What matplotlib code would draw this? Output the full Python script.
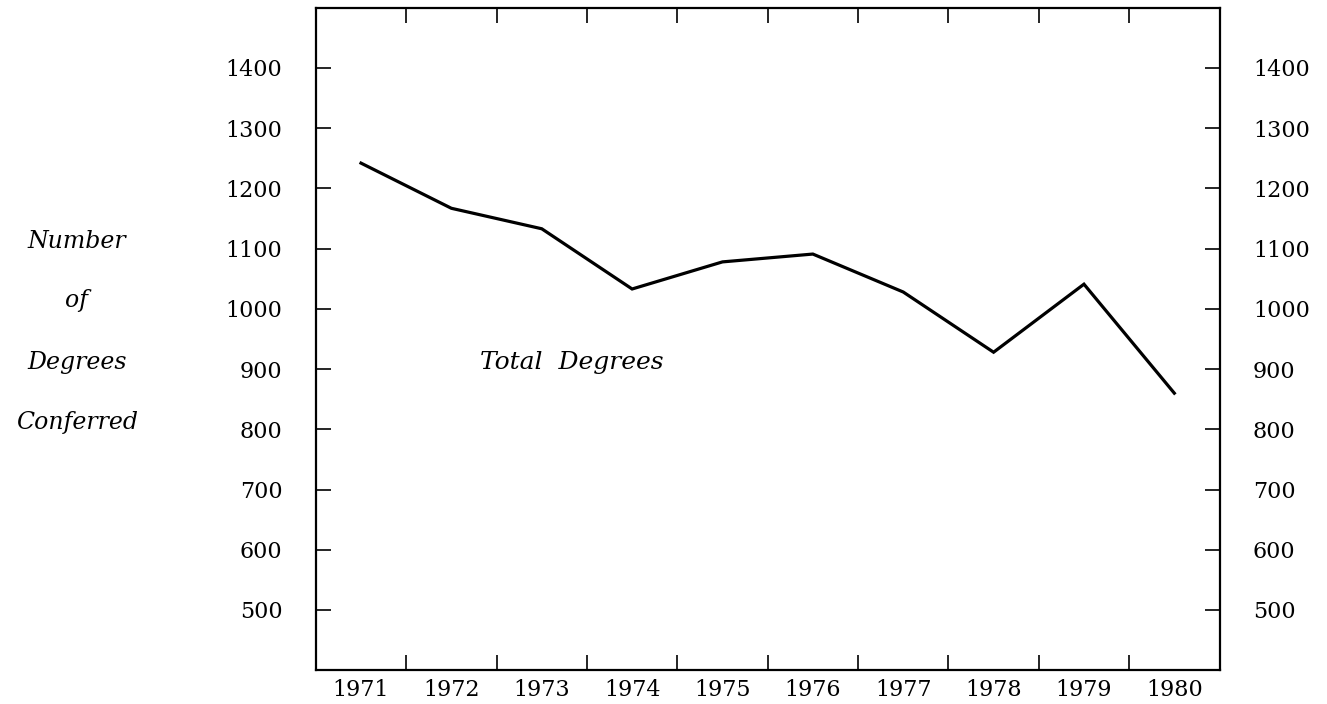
import numpy as np
import matplotlib
matplotlib.use("Agg")
import matplotlib.pyplot as plt

# data
years = [1971, 1972, 1973, 1974, 1975, 1976, 1977, 1978, 1979, 1980]
total_degrees = [1242, 1167, 1133, 1033, 1078, 1091, 1028, 928, 1041, 860]
y_ticks = [500, 600, 700, 800, 900, 1000, 1100, 1200, 1300, 1400]
side_label = ["Number", "of", "Degrees", "Conferred"]

plt.rcParams['font.family'] = 'DejaVu Serif'

fig = plt.figure(figsize=(13.27, 7.04), dpi=100)
ax = fig.add_axes([0.238, 0.048, 0.681, 0.941])

# years sit in the middle of each slot, ticks mark the slot borders
x = np.array(years) - years[0] + 0.5
ax.plot(x, total_degrees, color='black', linewidth=2.3, solid_joinstyle='miter')

ax.set_xlim(0, len(years))
ax.set_ylim(400, 1500)

ax.set_xticks(np.arange(1, len(years)))
ax.set_xticklabels([])
ax.set_xticks(x, minor=True)
ax.set_xticklabels([str(y) for y in years], minor=True, fontsize=16)
ax.tick_params(axis='x', which='minor', length=0, pad=6)
ax.tick_params(axis='x', which='major', direction='in', length=11, width=1.2,
               top=True, bottom=True)

ax.set_yticks(y_ticks)
ax.set_yticklabels([str(v) for v in y_ticks], fontsize=16)
ax.tick_params(axis='y', direction='in', length=11, width=1.2, pad=24,
               left=True, right=True, labelleft=True, labelright=True)

for s in ax.spines.values():
    s.set_linewidth(1.6)

ax.text(0.182, 0.464, "Total  Degrees", transform=ax.transAxes,
        fontsize=18, style='italic', va='center', ha='left')

label_y = [242, 300, 362, 422]
for word, py in zip(side_label, label_y):
    fig.text(77 / 1327, 1 - py / 704, word, fontsize=17, style='italic',
             ha='center', va='center')

fig.savefig("out.png", dpi=100)
